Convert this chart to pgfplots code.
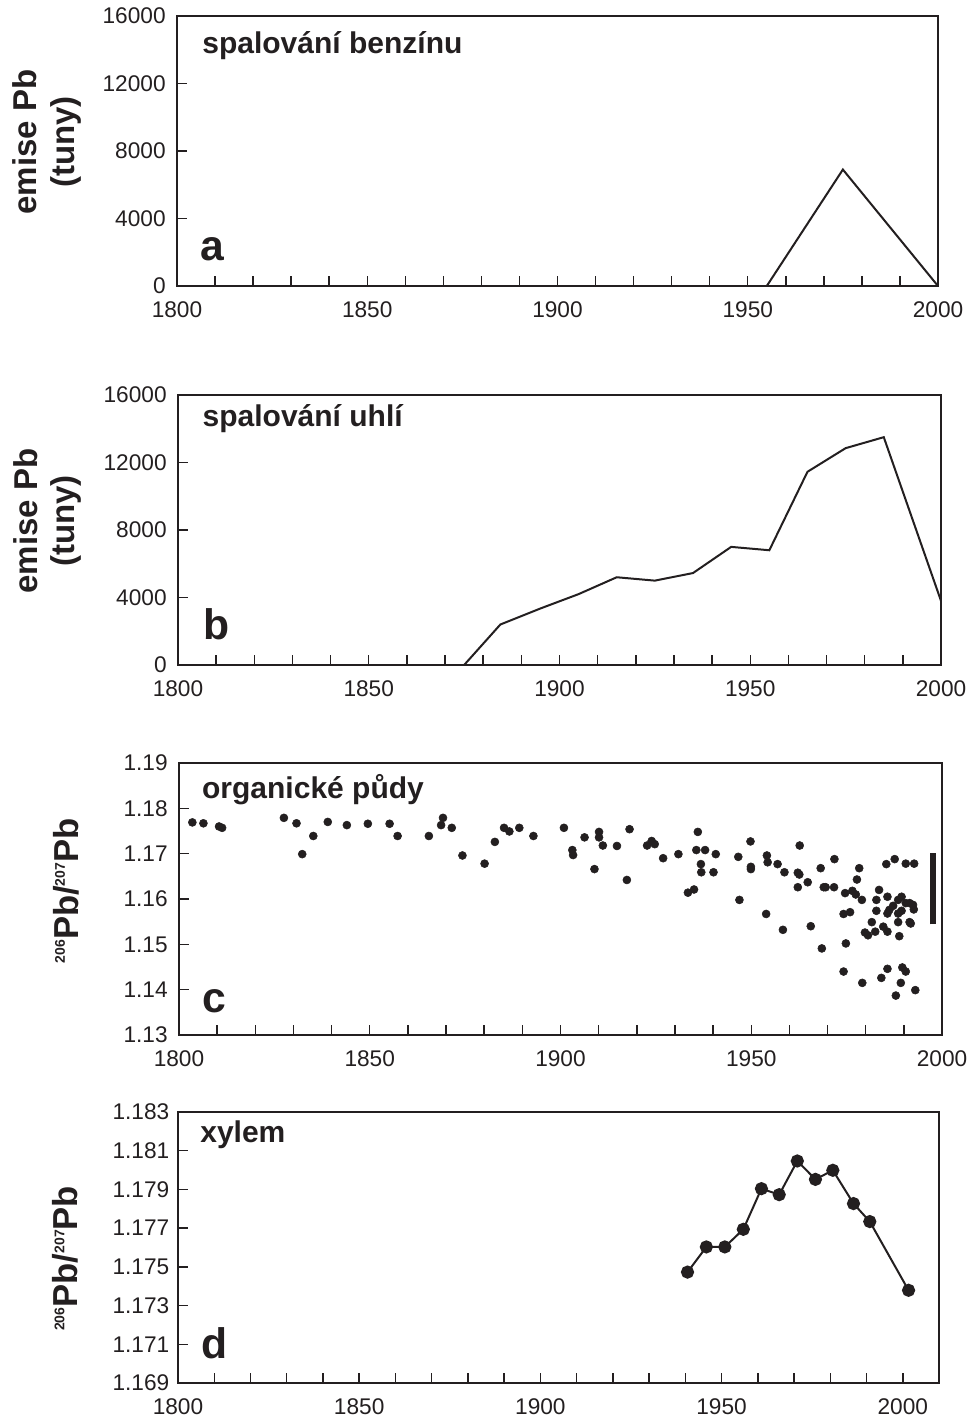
\documentclass[border=0pt]{standalone}
\usepackage{fontspec}
\setmainfont{Liberation Sans}
\usepackage{pgfplots}
\pgfplotsset{compat=1.18}
\definecolor{ink}{HTML}{231F20}

\pgfplotsset{
  panel/.style={
    scale only axis,
    anchor=south west,
    xmin=1800, xmax=2000,
    xtick={1800,1850,1900,1950,2000},
    minor x tick num=4,
    tick align=inside,
    xtick pos=left, ytick pos=left,
    major tick length=7.5pt, minor tick length=7.5pt,
    every tick/.style={ink, line width=1.1pt},
    axis line style={ink, line width=1.1pt},
    tick label style={font=\fontsize{17}{20}\selectfont, text=ink},
    /pgf/number format/assume math mode=true,
    /pgf/number format/1000 sep={},
    scaled ticks=false,
    xticklabel style={yshift=-8pt},
    yticklabel style={xshift=-5pt},
    ylabel style={font=\bfseries\fontsize{24.75}{28}\selectfont, text=ink, align=center, anchor=center, rotate=0},
    clip=true,
  },
}
\tikzset{
  ttl/.style={anchor=base west, inner sep=0pt, text=ink, font=\bfseries\fontsize{22.5}{26}\selectfont},
  lett/.style={anchor=base west, inner sep=0pt, text=ink, font=\bfseries\fontsize{32}{36}\selectfont},
}

\newcommand{\ratio}{\raisebox{10pt}{\fontsize{10.5}{11}\selectfont 206}Pb/\raisebox{10pt}{\fontsize{10.5}{11}\selectfont 207}Pb}

\begin{document}
\begin{tikzpicture}
\path[use as bounding box] (0,0) rectangle (729pt,-1067.25pt);

% ---------- panel a ----------
\begin{axis}[panel,
  at={(132.75pt,-214.5pt)},
  width=570.75pt, height=202.5pt,
  ymin=0, ymax=16000,
  ytick={0,4000,8000,12000,16000},
  ylabel={emise Pb\\(tuny)},
  ylabel style={at={(axis description cs:-0.171,0.533)}},
]
\addplot[ink, line width=1.5pt] coordinates {(1955,0) (1975,6900) (2000,0)};
\node[ttl] at (rel axis cs:0.033,0.862) {spalování benzínu};
\node[lett] at (rel axis cs:0.031,0.096) {a};
\end{axis}

% ---------- panel b ----------
\begin{axis}[panel,
  at={(133.5pt,-498.75pt)},
  width=572.25pt, height=202.5pt,
  ymin=0, ymax=16000,
  ytick={0,4000,8000,12000,16000},
  ylabel={emise Pb\\(tuny)},
  ylabel style={at={(axis description cs:-0.171,0.533)}},
]
\addplot[ink, line width=1.5pt] coordinates {
(1875,0) (1884.5,2400) (1895,3350) (1905,4200) (1915,5200) (1925,5000)
(1935,5450) (1945,7000) (1955,6800) (1965,11450) (1975,12850) (1985,13500) (2000,3800)};
\node[ttl] at (rel axis cs:0.032,0.883) {spalování uhlí};
\node[lett] at (rel axis cs:0.033,0.093) {b};
\end{axis}

% ---------- panel c ----------
\begin{axis}[panel,
  at={(134.25pt,-776.25pt)},
  width=572.25pt, height=204pt,
  ymin=1.13, ymax=1.19,
  ytick={1.13,1.14,1.15,1.16,1.17,1.18,1.19},
  yticklabel style={/pgf/number format/fixed, /pgf/number format/fixed zerofill, /pgf/number format/precision=2},
  axis line style={ink, line width=1.9pt},
  ylabel={\ratio},
  ylabel style={at={(axis description cs:-0.148,0.53)}, font=\bfseries\fontsize{26}{28}\selectfont},
]
\addplot[only marks, mark=*, mark size=3pt, ink, mark options={fill=ink, draw=ink}] table {
x y
1803.5 1.1769
1806.4 1.1767
1810.5 1.1760
1811.3 1.1757
1827.5 1.1779
1830.8 1.1767
1832.3 1.1699
1835.2 1.1739
1839.0 1.1770
1844.0 1.1763
1849.5 1.1766
1855.2 1.1766
1857.3 1.1739
1865.5 1.1739
1868.7 1.1763
1869.2 1.1779
1871.5 1.1757
1874.3 1.1696
1880.1 1.1678
1882.8 1.1726
1885.2 1.1757
1886.6 1.1749
1889.2 1.1757
1892.9 1.1739
1900.9 1.1757
1903.1 1.1708
1903.3 1.1697
1906.3 1.1736
1908.9 1.1666
1910.1 1.1748
1910.1 1.1736
1911.1 1.1718
1914.8 1.1717
1917.4 1.1642
1918.1 1.1754
1922.7 1.1718
1923.9 1.1728
1924.7 1.1721
1926.9 1.1690
1930.9 1.1699
1933.4 1.1614
1935.0 1.1621
1936.0 1.1748
1935.6 1.1708
1937.9 1.1708
1936.8 1.1677
1936.9 1.1659
1940.1 1.1659
1940.7 1.1699
1946.6 1.1693
1946.9 1.1598
1949.8 1.1727
1949.9 1.1671
1949.9 1.1666
1953.9 1.1567
1954.1 1.1696
1954.3 1.1681
1956.9 1.1677
1958.3 1.1532
1958.7 1.1659
1962.7 1.1718
1962.2 1.1658
1962.6 1.1654
1962.2 1.1626
1964.8 1.1637
1965.6 1.1540
1968.2 1.1668
1968.5 1.1491
1969.0 1.1626
1969.5 1.1626
1971.7 1.1626
1971.8 1.1688
1974.2 1.1440
1974.6 1.1613
1974.8 1.1502
1974.2 1.1567
1975.9 1.1571
1976.5 1.1618
1977.4 1.1610
1977.7 1.1643
1978.3 1.1668
1979.0 1.1598
1979.1 1.1415
1979.8 1.1526
1980.6 1.1520
1981.6 1.1549
1982.5 1.1528
1982.8 1.1598
1982.8 1.1574
1983.5 1.1620
1984.1 1.1426
1984.6 1.1539
1985.4 1.1677
1985.7 1.1605
1985.7 1.1568
1985.7 1.1528
1985.7 1.1446
1986.2 1.1576
1987.2 1.1585
1987.6 1.1688
1987.9 1.1387
1988.5 1.1598
1988.5 1.1568
1988.5 1.1549
1988.8 1.1518
1989.2 1.1415
1989.4 1.1605
1989.4 1.1574
1989.6 1.1449
1990.5 1.1440
1990.5 1.1678
1992.7 1.1678
1990.5 1.1591
1991.5 1.1591
1992.4 1.1587
1991.5 1.1549
1991.8 1.1546
1992.6 1.1577
1993.0 1.1399
};
\addplot[ink, line width=4.5pt] coordinates {(1997.6,1.1544) (1997.6,1.1701)};
\node[ttl] at (rel axis cs:0.030,0.871) {organické půdy};
\node[lett] at (rel axis cs:0.031,0.081) {c};
\end{axis}

% ---------- panel d ----------
\begin{axis}[panel,
  at={(133.5pt,-1037.25pt)},
  width=570.75pt, height=203.25pt,
  xmax=2010,
  ymin=1.169, ymax=1.183,
  ytick={1.169,1.171,1.173,1.175,1.177,1.179,1.181,1.183},
  yticklabel style={xshift=2pt, /pgf/number format/fixed, /pgf/number format/fixed zerofill, /pgf/number format/precision=3},
  ylabel={\ratio},
  ylabel style={at={(axis description cs:-0.148,0.46)}, font=\bfseries\fontsize{26}{28}\selectfont},
]
\addplot[ink, line width=1.5pt, mark=*, mark size=4.2pt, mark options={fill=ink, draw=ink}] coordinates {
(1940.6,1.17473) (1945.8,1.17603) (1950.9,1.17603) (1956.0,1.17694) (1961.0,1.17904)
(1965.9,1.17873) (1970.9,1.18047) (1975.9,1.17952) (1980.7,1.17999) (1986.4,1.17827)
(1990.9,1.17734) (2001.6,1.17379)};
\node[ttl] at (rel axis cs:0.029,0.886) {xylem};
\node[lett] at (rel axis cs:0.031,0.092) {d};
\end{axis}
\end{tikzpicture}
\end{document}
